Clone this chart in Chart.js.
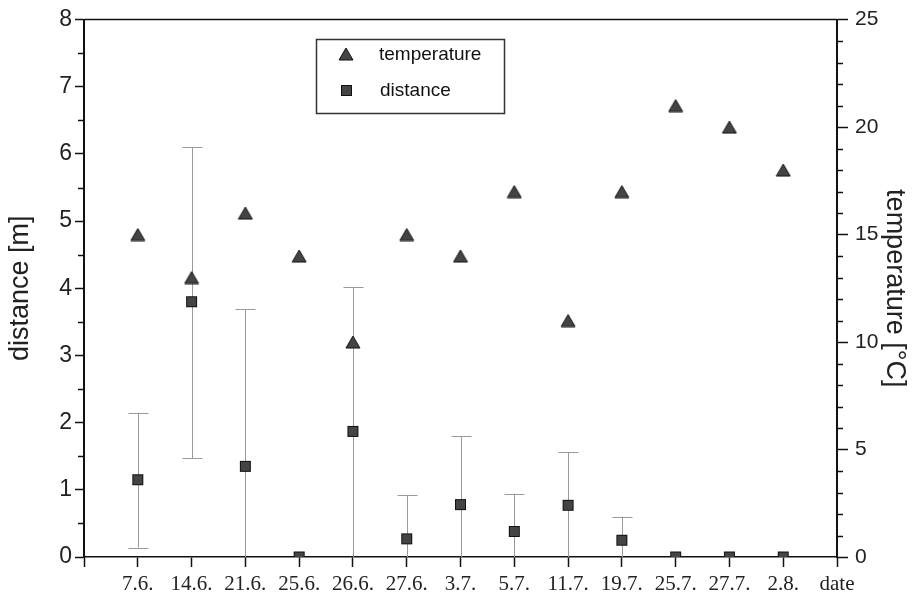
<!DOCTYPE html>
<html>
<head>
<meta charset="utf-8">
<script src="https://cdn.jsdelivr.net/npm/chart.js@4.4.1/dist/chart.umd.min.js"></script>
<style>
    html, body { margin: 0; padding: 0; background: #fff; }
    #wrap { width: 914px; height: 596px; }
</style>
</head>
<body>
<div id="wrap"><canvas id="chart" width="914" height="596"></canvas></div>
<script>
// Sampling dates and measured values
const dates = ['7.6.', '14.6.', '21.6.', '25.6.', '26.6.', '27.6.', '3.7.', '5.7.', '11.7.', '19.7.', '25.7.', '27.7.', '2.8.'];
const temperature = [15, 13, 16, 14, 10, 15, 14, 17, 11, 17, 21, 20, 18];
const distance = [1.15, 3.8, 1.35, 0, 1.87, 0.27, 0.78, 0.38, 0.77, 0.25, 0, 0, 0];
const distanceLow = [0.14, 1.47, 0, null, 0, 0, 0, 0, 0, 0, null, null, null];
const distanceHigh = [2.15, 6.1, 3.69, null, 4.02, 0.92, 1.8, 0.94, 1.56, 0.6, null, null, null];

const SANS = "'Liberation Sans', Arial, sans-serif";
const SERIF = "'Liberation Serif', 'Times New Roman', serif";
const MARK_FILL = '#444';
const MARK_EDGE = '#111';

// empty slot at the left axis, 'date' at the right axis
const labels = ['', ...dates, 'date'];
const pad = arr => [null, ...arr, null];

function makeTriangle() {
    const c = document.createElement('canvas');
    c.width = 16; c.height = 14;
    const ctx = c.getContext('2d');
    ctx.beginPath();
    ctx.moveTo(8, 1);
    ctx.lineTo(15, 13);
    ctx.lineTo(1, 13);
    ctx.closePath();
    ctx.fillStyle = MARK_FILL;
    ctx.fill();
    ctx.strokeStyle = MARK_EDGE;
    ctx.lineWidth = 1;
    ctx.stroke();
    return c;
}

function makeSquare() {
    const c = document.createElement('canvas');
    c.width = 13; c.height = 13;
    const ctx = c.getContext('2d');
    ctx.fillStyle = MARK_FILL;
    ctx.fillRect(1, 1, 11, 11);
    ctx.strokeStyle = MARK_EDGE;
    ctx.lineWidth = 1;
    ctx.strokeRect(1.5, 1.5, 10, 10);
    return c;
}

const triangleImg = makeTriangle();
const squareImg = makeSquare();

// error bars behind the distance markers
const errorBars = {
    id: 'errorBars',
    beforeDatasetsDraw(chart) {
        const { ctx, scales } = chart;
        ctx.save();
        ctx.strokeStyle = '#9a9a9a';
        ctx.lineWidth = 1;
        dates.forEach((d, i) => {
            if (distanceHigh[i] === null) return;
            const x = Math.round(scales.x.getPixelForValue(i + 1)) + 0.5;
            const yHi = scales.y.getPixelForValue(distanceHigh[i]);
            const yLo = scales.y.getPixelForValue(distanceLow[i]);
            ctx.beginPath();
            ctx.moveTo(x, yLo);
            ctx.lineTo(x, yHi);
            ctx.moveTo(x - 10, Math.round(yHi) + 0.5);
            ctx.lineTo(x + 10, Math.round(yHi) + 0.5);
            if (distanceLow[i] > 0) {
                ctx.moveTo(x - 10, Math.round(yLo) + 0.5);
                ctx.lineTo(x + 10, Math.round(yLo) + 0.5);
            }
            ctx.stroke();
        });
        ctx.restore();
    }
};

// minor ticks, top frame line and the boxed legend
const frameAndLegend = {
    id: 'frameAndLegend',
    afterDraw(chart) {
        const { ctx, chartArea, scales } = chart;
        ctx.save();
        ctx.strokeStyle = '#111';
        ctx.lineWidth = 1.5;
        ctx.beginPath();
        ctx.moveTo(chartArea.left, chartArea.top);
        ctx.lineTo(chartArea.right, chartArea.top);
        ctx.stroke();

        ctx.lineWidth = 1.5;
        ctx.beginPath();
        for (let v = 0.5; v < 8; v += 1) {
            const y = Math.round(scales.y.getPixelForValue(v)) + 0.5;
            ctx.moveTo(chartArea.left - 6, y);
            ctx.lineTo(chartArea.left, y);
        }
        for (let v = 1; v < 25; v++) {
            if (v % 5 === 0) continue;
            const y = Math.round(scales.y2.getPixelForValue(v)) + 0.5;
            ctx.moveTo(chartArea.right, y);
            ctx.lineTo(chartArea.right + 6, y);
        }
        ctx.stroke();

        // legend box
        ctx.strokeStyle = '#333';
        ctx.lineWidth = 1.5;
        ctx.strokeRect(316.5, 39.5, 188, 74);
        ctx.drawImage(triangleImg, 346 - 8, 54 - 7);
        ctx.drawImage(squareImg, 346 - 6, 90 - 6);
        ctx.fillStyle = '#111';
        ctx.font = '19px ' + SANS;
        ctx.textBaseline = 'middle';
        ctx.textAlign = 'left';
        ctx.fillText('temperature', 379, 55);
        ctx.fillText('distance', 380, 91);
        ctx.restore();
    }
};

new Chart(document.getElementById('chart'), {
    type: 'line',
    data: {
        labels: labels,
        datasets: [
            {
                label: 'temperature',
                data: pad(temperature),
                yAxisID: 'y2',
                showLine: false,
                pointStyle: triangleImg,
                pointRadius: 8
            },
            {
                label: 'distance',
                data: pad(distance),
                yAxisID: 'y',
                showLine: false,
                pointStyle: squareImg,
                pointRadius: 7
            }
        ]
    },
    options: {
        responsive: false,
        animation: false,
        events: [],
        layout: { padding: { top: 16, left: 0, right: 0, bottom: 0 } },
        plugins: {
            legend: { display: false },
            tooltip: { enabled: false }
        },
        scales: {
            x: {
                type: 'category',
                offset: false,
                afterFit: s => { s.height = 39; },
                border: { display: true, color: '#111', width: 1.5 },
                grid: { drawOnChartArea: false, drawTicks: true, tickLength: 10, tickColor: '#111', tickWidth: 1.5 },
                ticks: {
                    autoSkip: false,
                    maxRotation: 0,
                    padding: 5,
                    color: '#222',
                    font: { family: SERIF, size: 21 }
                }
            },
            y: {
                position: 'left',
                min: 0,
                max: 8,
                afterFit: s => { s.width = 84; },
                border: { display: true, color: '#111', width: 2 },
                grid: { drawOnChartArea: false, tickLength: 9, tickColor: '#111', tickWidth: 1.5 },
                ticks: {
                    stepSize: 1,
                    padding: 3,
                    color: '#222',
                    font: { family: SANS, size: 23 }
                },
                title: {
                    display: true,
                    text: 'distance [m]',
                    color: '#222',
                    padding: { top: 4, bottom: 0 },
                    font: { family: SANS, size: 27 }
                }
            },
            y2: {
                position: 'right',
                min: 0,
                max: 25,
                afterFit: s => { s.width = 77; },
                border: { display: true, color: '#111', width: 2 },
                grid: { drawOnChartArea: false, tickLength: 11, tickColor: '#111', tickWidth: 1.5 },
                ticks: {
                    stepSize: 5,
                    padding: 7,
                    color: '#222',
                    font: { family: SANS, size: 21 }
                },
                title: {
                    display: true,
                    text: 'temperature [°C]',
                    color: '#222',
                    padding: { top: 3, bottom: 0 },
                    font: { family: SANS, size: 27 }
                }
            }
        }
    },
    plugins: [errorBars, frameAndLegend]
});
</script>
</body>
</html>
